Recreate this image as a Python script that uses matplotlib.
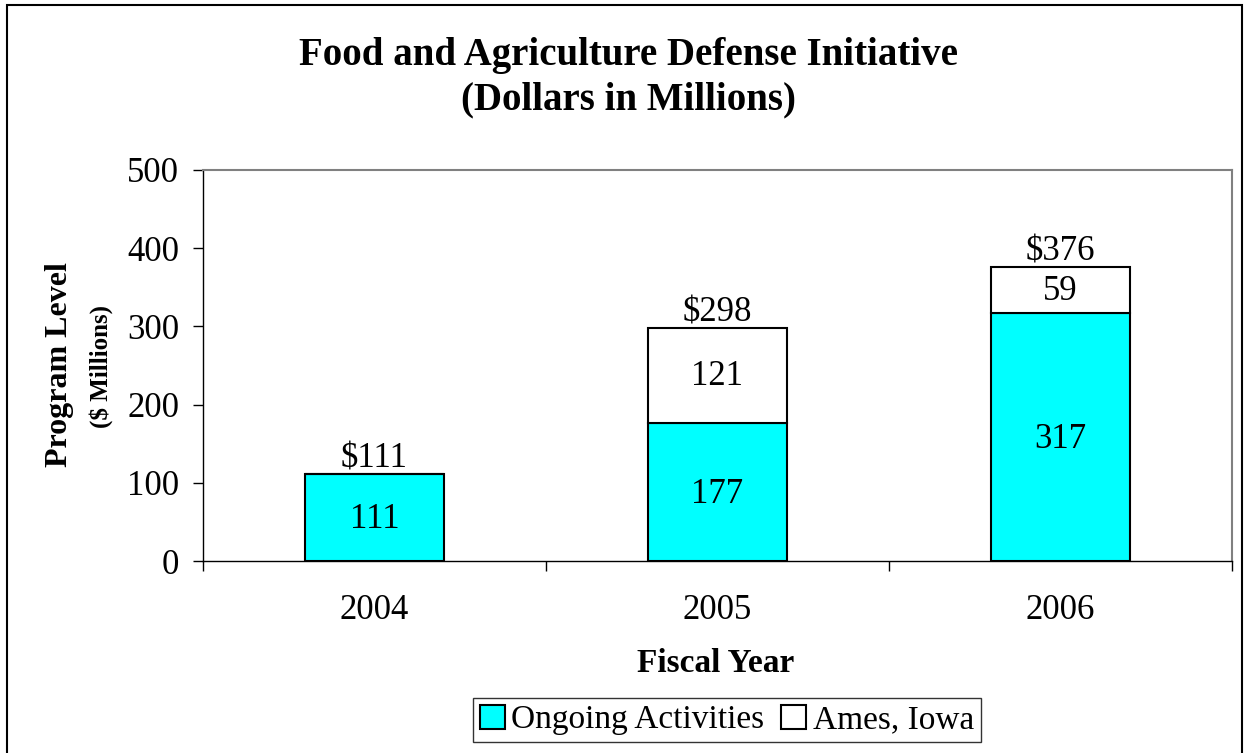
import matplotlib.pyplot as plt
from matplotlib.patches import Rectangle

plt.rcParams['font.family'] = ['Liberation Serif', 'DejaVu Serif']

years = ['2004', '2005', '2006']
ongoing = [111, 177, 317]
ames = [0, 121, 59]
totals = [111, 298, 376]

W, H = 1249, 753
fig = plt.figure(figsize=(W / 100, H / 100), dpi=100)
ax = fig.add_axes([203 / W, 1 - 561 / H, 1029 / W, 391 / H])

x = range(len(years))
bw = 0.405
ax.bar(x, ongoing, bw, color='#00ffff', edgecolor='black', linewidth=1.5,
       label='Ongoing Activities')
ax.bar(x, ames, bw, bottom=ongoing, color='white', edgecolor='black',
       linewidth=1.5, label='Ames, Iowa')

for i in x:
    ax.text(i, ongoing[i] / 2 - 3, str(ongoing[i]), ha='center', va='center',
            fontsize=25)
    if ames[i]:
        ax.text(i, ongoing[i] + ames[i] / 2 - 2, str(ames[i]), ha='center',
                va='center', fontsize=25)
    ax.text(i, totals[i] - 2, '$' + str(totals[i]), ha='center', va='bottom',
            fontsize=25)

ax.set_xlim(-0.5, 2.5)
ax.set_ylim(0, 500)
ax.set_yticks(range(0, 501, 100))
ax.set_xticks(x)
ax.set_xticklabels(years, fontsize=25)
ax.tick_params(axis='y', labelsize=25, length=7, width=1, direction='out', pad=10)
ax.tick_params(axis='x', length=0, pad=24)
ax.set_xticks([-0.5, 0.5, 1.5, 2.5], minor=True)
ax.tick_params(axis='x', which='minor', length=7, width=1, direction='out')

for s in ['top', 'right']:
    ax.spines[s].set_color('#808080')
    ax.spines[s].set_linewidth(1.5)
for s in ['left', 'bottom']:
    ax.spines[s].set_color('black')
    ax.spines[s].set_linewidth(1)

fig.text(628 / W, 1 - 55 / H, 'Food and Agriculture Defense Initiative',
         ha='center', va='center', fontsize=28, fontweight='bold')
fig.text(628 / W, 1 - 100 / H, '(Dollars in Millions)',
         ha='center', va='center', fontsize=28, fontweight='bold')
fig.text(60 / W, 1 - 365 / H, 'Program Level', rotation=90, ha='center',
         va='center', fontsize=23, fontweight='bold')
fig.text(101 / W, 1 - 366 / H, '($ Millions)', rotation=90, ha='center',
         va='center', fontsize=18, fontweight='bold')
fig.text(716 / W, 1 - 664 / H, 'Fiscal Year', ha='center', va='center',
         fontsize=24, fontweight='bold')

leg = fig.legend(loc='center', bbox_to_anchor=(727 / W, 1 - 720 / H), ncol=2,
                 fontsize=24, frameon=True, fancybox=False, handlelength=0.75,
                 handleheight=0.75, handletextpad=0.2, columnspacing=0.5,
                 borderpad=0.2)
leg.get_frame().set_edgecolor('black')
leg.get_frame().set_linewidth(1)

fig.patches.append(Rectangle((7 / W, -0.01), 1 - 14 / W, 1 - 5 / H + 0.01,
                             transform=fig.transFigure, fill=False,
                             edgecolor='black', linewidth=1.5))

fig.savefig('out.png', dpi=100)
